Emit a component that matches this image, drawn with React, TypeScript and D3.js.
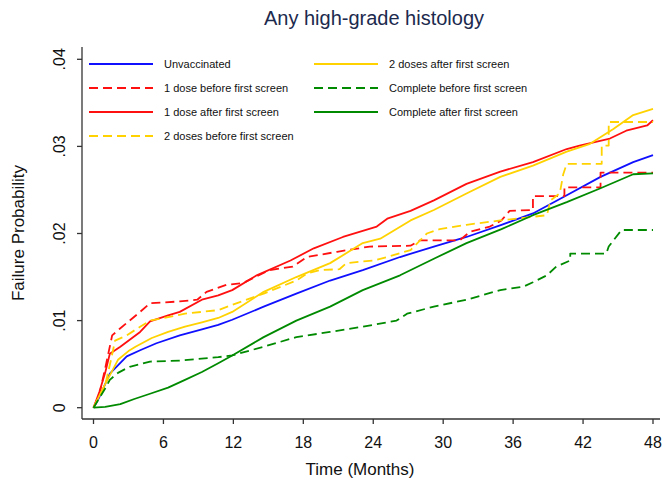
import * as d3 from 'd3';

const W = 665;
const H = 483;

// failure probability curves, [month, probability]
const unvaccinated: [number, number][] = [
    [0, 0], [0.5, 0.0012], [1, 0.0027], [1.4, 0.0039], [2.85, 0.0059], [4, 0.0066], [5.4, 0.0074],
    [7.4, 0.0083], [9.3, 0.009], [10.7, 0.0095], [11.9, 0.0101], [14.6, 0.0116],
    [17.4, 0.0131], [20.3, 0.0146], [23.1, 0.0158], [26.3, 0.0173], [29.2, 0.0185], [32, 0.0196],
    [35, 0.021], [37.7, 0.0223], [40.6, 0.0244], [43.5, 0.0265], [46.3, 0.0282], [48, 0.029],
];
const oneBefore: [number, number][] = [
    [0, 0], [0.5, 0.0015], [1, 0.0045], [1.6, 0.0083], [2.2, 0.009], [3.1, 0.01], [4, 0.011],
    [4.85, 0.012], [7.4, 0.0122], [8.9, 0.0124],
    [9.7, 0.0133], [11.4, 0.0141], [12.8, 0.0143], [15.1, 0.0158], [17.1, 0.0162], [18.3, 0.0173],
    [20.9, 0.0179], [23.7, 0.0185], [27.2, 0.0186], [28, 0.0192], [31.4, 0.0192], [32.3, 0.0202],
    [34, 0.0208], [35, 0.0215], [35.7, 0.0226], [37.7, 0.0227], [37.7, 0.0243], [40.4, 0.0243],
    [40.4, 0.0253], [43.5, 0.0253], [43.5, 0.027], [48, 0.027],
];
const oneAfter: [number, number][] = [
    [0, 0], [0.5, 0.0018], [1, 0.004], [1.4, 0.0062], [2.3, 0.007], [4, 0.0087], [4.85, 0.0099],
    [6.4, 0.0106], [7.4, 0.011], [9.3, 0.0124], [10.7, 0.0129], [11.9, 0.0135], [14, 0.0152],
    [16.9, 0.0169], [18.9, 0.0183], [21.4, 0.0196], [24.3, 0.0208], [25.2, 0.0217], [27.2, 0.0226],
    [29.2, 0.0238], [32, 0.0257], [34.9, 0.0271], [37.7, 0.0282], [40.6, 0.0297], [41.7, 0.0301],
    [44.3, 0.0309], [45.7, 0.0318], [47.5, 0.0324], [48, 0.033],
];
const twoBefore: [number, number][] = [
    [0, 0], [1, 0.0026], [1.5, 0.0055], [1.85, 0.0077], [2.85, 0.0083], [4, 0.0093], [4.85, 0.01],
    [6.4, 0.0104], [7.85, 0.0108], [9.3, 0.011], [10.7, 0.0112], [11.9, 0.0118], [14.6, 0.0131],
    [17.4, 0.0146], [18.3, 0.0154], [19.4, 0.0158], [21.1, 0.0159], [21.7, 0.0166], [24, 0.0169],
    [25.2, 0.0173], [27.2, 0.0181], [28.6, 0.02], [29.7, 0.0205], [32, 0.021], [34.9, 0.0215],
    [38.9, 0.0221], [39.2, 0.0238], [40, 0.0246], [40.3, 0.0268], [40.6, 0.028], [43.6, 0.028],
    [43.6, 0.0301], [44.2, 0.0301], [44.2, 0.0328], [48, 0.0328],
];
const twoAfter: [number, number][] = [
    [0, 0], [1, 0.0027], [2.1, 0.0055], [3, 0.0065], [3.6, 0.007], [5, 0.008], [6.4, 0.0087],
    [7.85, 0.0093], [9.3, 0.0098], [10.7, 0.0103], [11.9, 0.011], [14.6, 0.0133], [17.4, 0.015],
    [20.3, 0.0166], [23.1, 0.0189], [24.6, 0.0194], [27.2, 0.0215], [29.2, 0.0227], [32, 0.0246],
    [34.9, 0.0265], [37.7, 0.0278], [40.6, 0.0294], [42.6, 0.0303], [44.6, 0.032], [46.3, 0.0336],
    [48, 0.0343],
];
const completeBefore: [number, number][] = [
    [0, 0], [1, 0.0022], [1.4, 0.0032], [2.1, 0.004], [3.1, 0.0047], [4.85, 0.0053], [7.4, 0.0054],
    [10.7, 0.0058], [11.9, 0.006], [14.6, 0.007], [17.4, 0.0081], [20.3, 0.0087], [23.1, 0.0093],
    [26, 0.01], [26.9, 0.0108], [29.2, 0.0116], [32, 0.0124], [34.9, 0.0135], [36.9, 0.0139],
    [37.7, 0.0144], [38.9, 0.0152], [39.7, 0.0162], [40.9, 0.0169], [40.9, 0.0177], [44, 0.0177],
    [44.2, 0.0185], [44.6, 0.0192], [45.3, 0.0204], [48, 0.0204],
];
const completeAfter: [number, number][] = [
    [0, 0], [1, 0.0001], [2.3, 0.0004], [3.5, 0.001], [4.85, 0.0016], [6.4, 0.0023], [7.85, 0.0032],
    [9.3, 0.0041], [10.7, 0.0051], [11.9, 0.006], [14.6, 0.0081], [17.4, 0.01], [20.3, 0.0116],
    [23.1, 0.0135], [26.3, 0.0152], [29.2, 0.0171], [32, 0.0189], [35, 0.0205], [37.7, 0.0221],
    [40.6, 0.0236], [43.5, 0.0252], [46.3, 0.0268], [48, 0.0269],
];

const xTicks = [0, 6, 12, 18, 24, 30, 36, 42, 48];
const yTicks = [0, 0.01, 0.02, 0.03, 0.04];
const yTickLabels = ['0', '.01', '.02', '.03', '.04'];

const series = [
    { name: 'Unvaccinated', data: unvaccinated, color: '#1010ff', dashed: false },
    { name: '1 dose before first screen', data: oneBefore, color: '#ff1010', dashed: true },
    { name: '1 dose after first screen', data: oneAfter, color: '#ff1010', dashed: false },
    { name: '2 doses before first screen', data: twoBefore, color: '#ffd200', dashed: true },
    { name: '2 doses after first screen', data: twoAfter, color: '#ffd200', dashed: false },
    { name: 'Complete before first screen', data: completeBefore, color: '#008a00', dashed: true },
    { name: 'Complete after first screen', data: completeAfter, color: '#008a00', dashed: false },
];

// plot region
const PLOT = { left: 82, right: 660, top: 47, bottom: 419 };
const FONT = 'Arial, "Liberation Sans", Helvetica, sans-serif';

export default function App() {
    const x = d3.scaleLinear().domain([0, 48]).range([93.5, 653]);
    const y = d3.scaleLinear().domain([0, 0.04]).range([407.7, 59.3]);
    const line = d3
        .line<[number, number]>()
        .x((d) => x(d[0]))
        .y((d) => y(d[1]));

    // legend: two columns, 4 rows on the left, 3 on the right
    const legendRow = (i: number) => 64 + (i % 4) * 24;
    const legendCol = (i: number) => (i < 4 ? 89 : 314);

    return (
        <svg
            width={W}
            height={H}
            style={{ position: 'absolute', left: 0, top: 0, background: '#fff' }}
            fontFamily={FONT}
        >
            <text x={374} y={25} textAnchor="middle" fontSize={20} fill="#1c2a4e">
                Any high-grade histology
            </text>

            {/* curves */}
            <g fill="none" strokeWidth={1.8} strokeLinejoin="round">
                {series.map((s) => (
                    <path
                        key={s.name}
                        d={line(s.data) || ''}
                        stroke={s.color}
                        strokeDasharray={s.dashed ? '9,5' : undefined}
                    />
                ))}
            </g>

            {/* axes */}
            <g stroke="#333" strokeWidth={1.3}>
                <line x1={PLOT.left} x2={PLOT.left} y1={PLOT.top} y2={PLOT.bottom} />
                <line x1={PLOT.left} x2={PLOT.right} y1={PLOT.bottom} y2={PLOT.bottom} />
                {yTicks.map((t) => (
                    <line key={t} x1={PLOT.left - 5} x2={PLOT.left} y1={y(t)} y2={y(t)} />
                ))}
                {xTicks.map((t) => (
                    <line key={t} x1={x(t)} x2={x(t)} y1={PLOT.bottom} y2={PLOT.bottom + 5} />
                ))}
            </g>
            {yTicks.map((t, i) => (
                <text
                    key={t}
                    transform={`translate(65,${y(t)}) rotate(-90)`}
                    textAnchor="middle"
                    fontSize={16}
                    fill="#111"
                >
                    {yTickLabels[i]}
                </text>
            ))}
            {xTicks.map((t) => (
                <text key={t} x={x(t)} y={448} textAnchor="middle" fontSize={16} fill="#111">
                    {t}
                </text>
            ))}
            <text x={360} y={475} textAnchor="middle" fontSize={17} fill="#111">
                Time (Months)
            </text>
            <text
                transform={`translate(23.5,${(PLOT.top + PLOT.bottom) / 2}) rotate(-90)`}
                textAnchor="middle"
                fontSize={17}
                fill="#111"
            >
                Failure Probability
            </text>

            {/* legend */}
            {series.map((s, i) => (
                <g key={s.name}>
                    <line
                        x1={legendCol(i)}
                        x2={legendCol(i) + 64}
                        y1={legendRow(i)}
                        y2={legendRow(i)}
                        stroke={s.color}
                        strokeWidth={1.8}
                        strokeDasharray={s.dashed ? '9,5' : undefined}
                    />
                    <text
                        x={legendCol(i) + 75}
                        y={legendRow(i) + 4}
                        fontSize={11}
                        fill="#111"
                    >
                        {s.name}
                    </text>
                </g>
            ))}
        </svg>
    );
}
